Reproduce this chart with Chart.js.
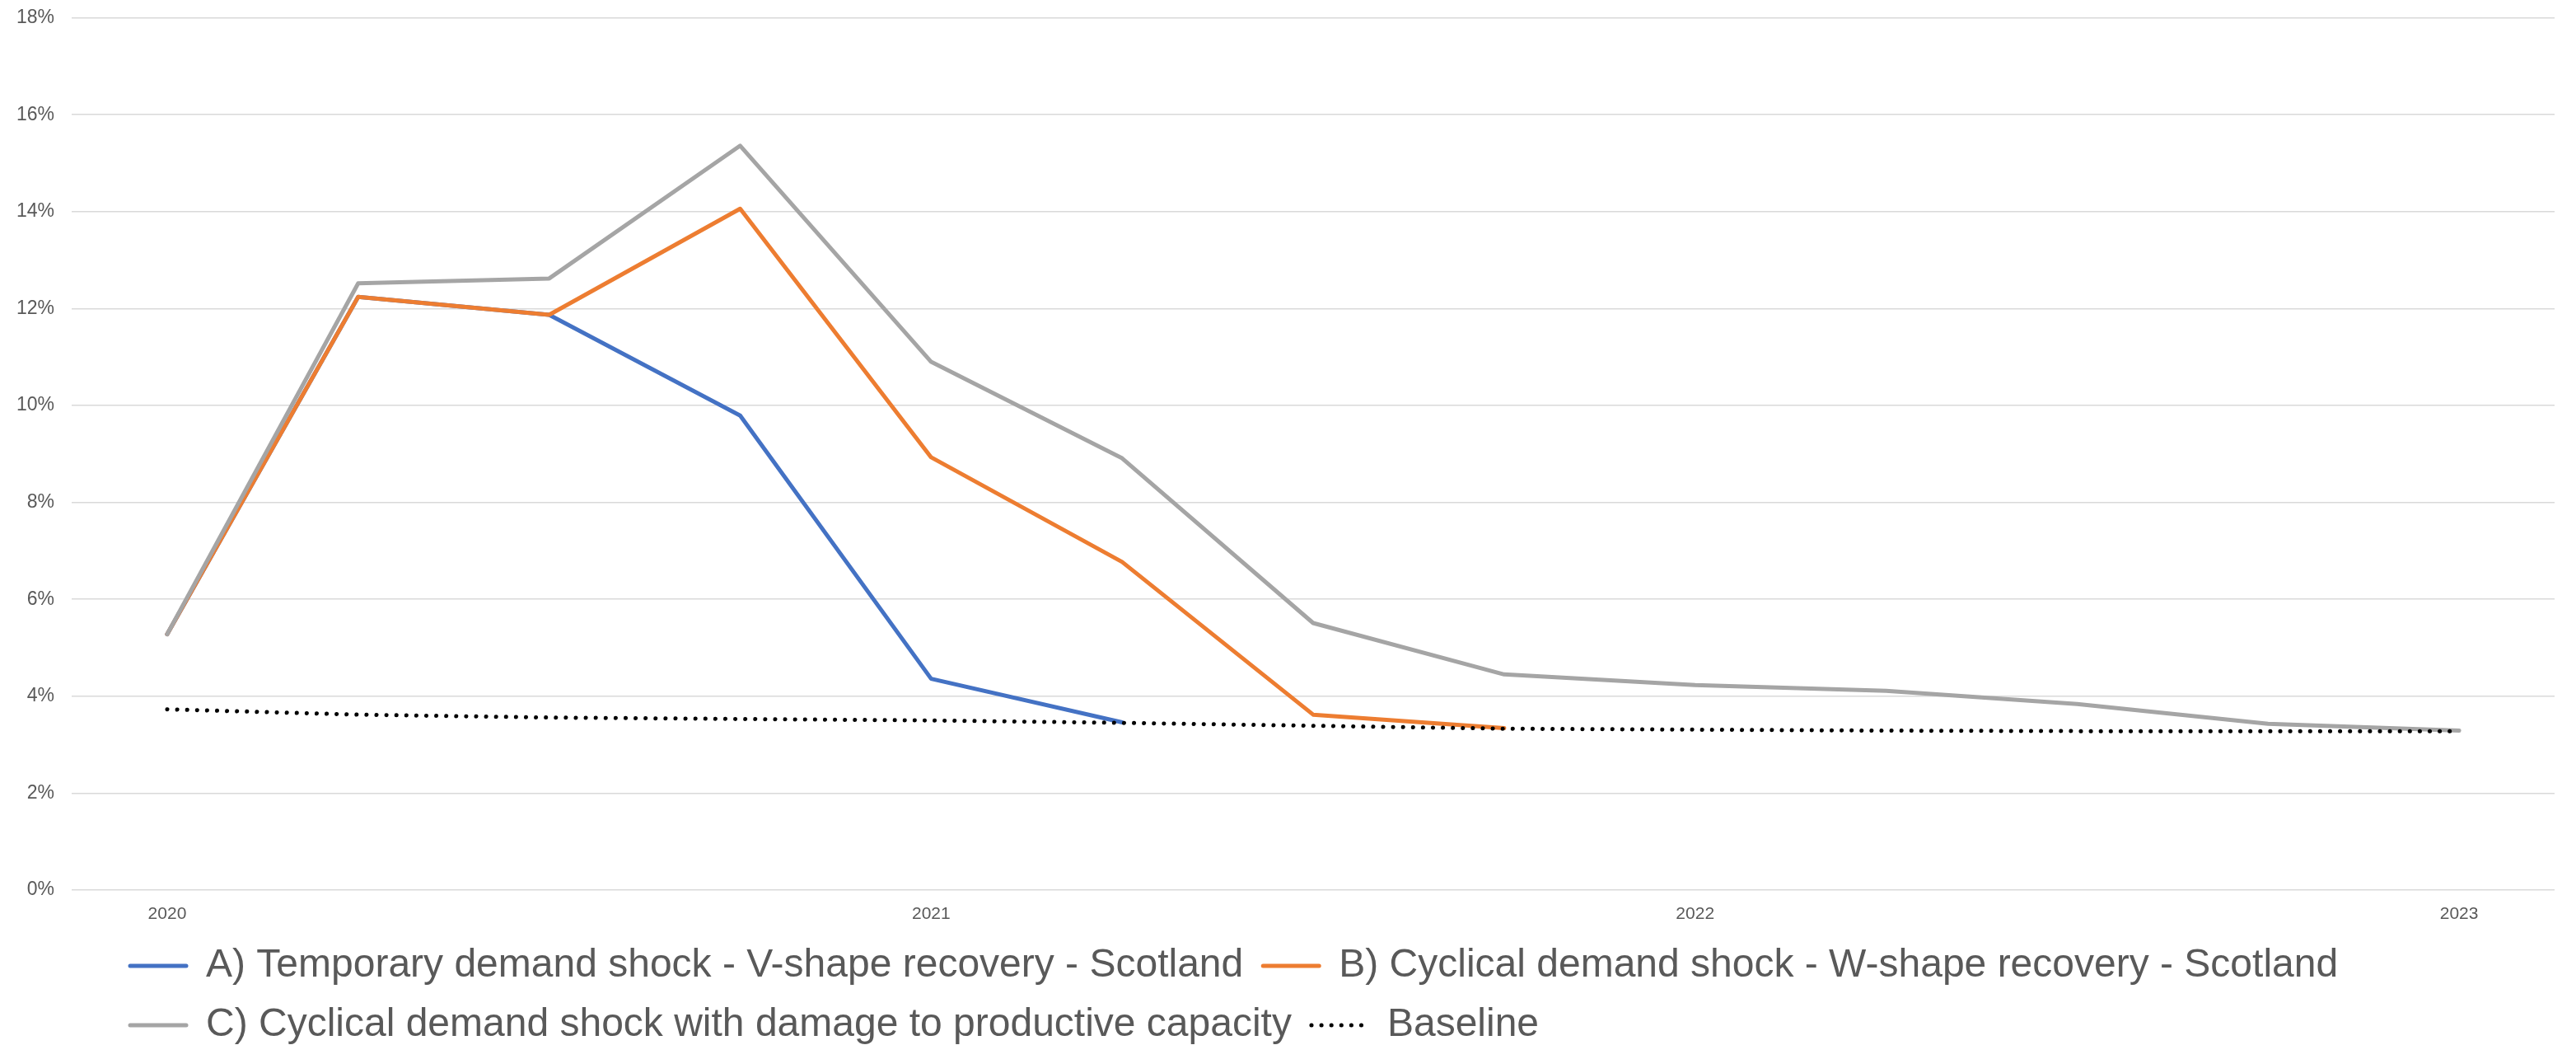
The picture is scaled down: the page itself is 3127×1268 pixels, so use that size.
<!DOCTYPE html>
<html>
<head>
<meta charset="utf-8">
<title>Unemployment scenarios - Scotland</title>
<script src="https://cdn.jsdelivr.net/npm/chart.js@4"></script>
<style>
  html, body { margin: 0; padding: 0; background: #ffffff; }
  #chartBox { width: 3127px; height: 1268px; }
</style>
</head>
<body>
<div id="chartBox"><canvas id="scenarioChart"></canvas></div>
<script>
"use strict";

// quarters 2020 Q1 .. 2023 Q1, only the Q1 ticks carry a label
const xLabels = ["2020", "", "", "", "2021", "", "", "", "2022", "", "", "", "2023"];

const seriesA = [5.28, 12.24, 11.87, 9.79, 4.36, 3.46];
const seriesB = [5.28, 12.24, 11.87, 14.06, 8.93, 6.77, 3.62, 3.34];
const seriesC = [5.28, 12.52, 12.62, 15.36, 10.9, 8.91, 5.51, 4.45, 4.23, 4.11, 3.84, 3.43, 3.29];
const baseline = [3.73, 3.62, 3.56, 3.53, 3.5, 3.45, 3.39, 3.33, 3.31, 3.29, 3.28, 3.28, 3.28];

const nameA = "A) Temporary demand shock - V-shape recovery - Scotland";
const nameB = "B) Cyclical demand shock - W-shape recovery - Scotland";
const nameC = "C) Cyclical demand shock with damage to productive capacity";
const nameBase = "Baseline";

const fontFamily = "'Liberation Sans', Arial, sans-serif";
const textColor = "#595959";

// Excel style legend sits further right and a bit higher than chart.js puts it
const legendShift = {
  id: "legendShift",
  afterLayout: (chart) => {
    chart.legend.left += 135;
    chart.legend.top -= 14;
    chart.legend.bottom -= 14;
  },
};

// legend samples: use the dataset line (dash, width) instead of the point style
const legendLabels = (chart) =>
  Chart.defaults.plugins.legend.labels.generateLabels(chart).map((item) => {
    const ds = chart.data.datasets[item.datasetIndex];
    return {
      ...item,
      strokeStyle: ds.borderColor,
      lineWidth: 5,
      lineDash: ds.borderDash || [],
      lineCap: "round",
    };
  });

const lineStyle = (color, width) => ({
  borderColor: color,
  backgroundColor: color,
  borderWidth: width,
  pointRadius: 0,
  pointHoverRadius: 0,
  tension: 0,
  fill: false,
  borderJoinStyle: "round",
  borderCapStyle: "round",
});

const ctx = document.getElementById("scenarioChart").getContext("2d");
const scenarioChart = new Chart(ctx, {
  type: "line",
  data: {
    labels: xLabels,
    datasets: [
      { label: nameA, data: seriesA, order: 4, ...lineStyle("#4472C4", 5) },
      { label: nameB, data: seriesB, order: 3, ...lineStyle("#ED7D31", 5) },
      { label: nameC, data: seriesC, order: 2, ...lineStyle("#A5A5A5", 5) },
      {
        label: nameBase,
        data: baseline,
        order: 1,
        ...lineStyle("#000000", 5),
        borderDash: [0.1, 12],
      },
    ],
  },
  options: {
    responsive: true,
    maintainAspectRatio: false,
    devicePixelRatio: 1,
    animation: false,
    layout: {
      padding: { left: -1, right: 26, top: 0, bottom: -24 },
    },
    plugins: {
      tooltip: { enabled: false },
      legend: {
        position: "bottom",
        align: "start",
        labels: {
          usePointStyle: true,
          pointStyle: "line",
          pointStyleWidth: 68,
          boxHeight: 6,
          padding: 24,
          color: textColor,
          font: { family: fontFamily, size: 48 },
          generateLabels: legendLabels,
          sort: (a, b) => a.datasetIndex - b.datasetIndex,
        },
      },
    },
    scales: {
      x: {
        offset: true,
        grid: { display: false, drawTicks: false },
        border: { display: false },
        ticks: {
          autoSkip: false,
          maxRotation: 0,
          padding: 16.4,
          color: textColor,
          font: { family: fontFamily, size: 21 },
        },
      },
      y: {
        min: 0,
        max: 18,
        grid: { color: "#D9D9D9", lineWidth: 1.5, drawTicks: false },
        border: { display: false },
        ticks: {
          stepSize: 2,
          padding: 21,
          color: textColor,
          font: { family: fontFamily, size: 23, lineHeight: 0.05 },
          callback: (value) => value + "%",
        },
      },
    },
  },
  plugins: [legendShift],
});
</script>
</body>
</html>
